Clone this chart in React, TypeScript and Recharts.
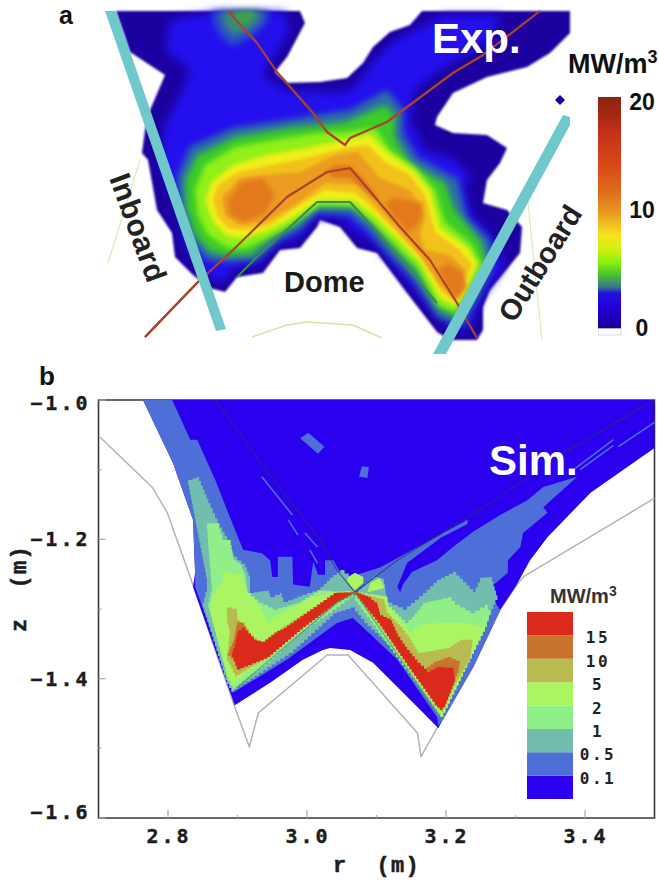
import { Bar, BarChart, ReferenceArea, Scatter, ScatterChart, XAxis, YAxis } from 'recharts';

type Pt = [number, number];

// ---- panel a (no physical axes are printed, units are picture units)
const expNavy: Pt[] = [[116,11],[300,11],[305,23],[287,57],[275,72],[287,83],[320,82],[347,78],[363,63],[373,47],[390,32],[410,25],[422,11],[570,11],[570,33],[550,53],[527,67],[487,77],[453,93],[437,117],[435,125],[453,133],[487,135],[507,148],[500,163],[487,180],[483,203],[507,210],[522,227],[520,253],[490,290],[483,307],[483,330],[477,340],[450,340],[437,332],[407,293],[377,253],[357,248],[340,227],[320,220],[317,227],[300,248],[280,250],[263,273],[237,277],[225,292],[210,288],[193,275],[175,257],[172,233],[157,210],[148,160],[142,153],[145,130],[150,110],[165,75],[130,52]];
const expBlue: Pt[] = [[170,20],[215,12],[285,12],[290,30],[275,55],[262,75],[285,90],[340,92],[352,90],[375,60],[395,40],[425,25],[445,15],[500,15],[490,40],[440,70],[415,90],[410,120],[425,150],[455,160],[470,175],[465,190],[472,215],[495,240],[505,265],[480,300],[470,330],[450,330],[410,285],[375,243],[358,235],[338,217],[315,218],[297,240],[277,243],[258,265],[235,268],[222,283],[205,275],[185,245],[178,205],[160,165],[165,125],[182,90],[190,70],[165,50]];
const expSpotOuter: Pt[] = [[212,11],[270,11],[265,25],[250,38],[232,46],[222,38],[214,25]];
const expSpotMid: Pt[] = [[222,11],[262,11],[258,22],[245,32],[232,35],[224,25]];
const expSpotCore: Pt[] = [[235,11],[255,11],[250,22],[238,25]];
const expTeal: Pt[] = [[177,177],[190,147],[233,128],[287,120],[317,115],[350,110],[387,90],[403,110],[403,133],[417,157],[453,177],[457,177],[467,217],[490,240],[493,267],[477,300],[463,325],[453,323],[437,317],[413,280],[387,253],[370,233],[350,215],[317,213],[300,230],[280,240],[257,260],[227,262],[207,260],[190,240],[180,210]];
const expGreen: Pt[] = [[185,180],[197,155],[235,137],[287,128],[320,125],[345,122],[385,105],[395,115],[395,137],[410,163],[445,183],[455,210],[482,243],[487,265],[470,297],[458,318],[440,310],[417,273],[392,246],[375,225],[352,207],[317,207],[295,225],[275,235],[252,255],[228,256],[210,252],[195,235],[186,208]];
const expLime: Pt[] = [[195,190],[205,165],[235,147],[285,138],[320,133],[345,132],[375,128],[390,150],[415,167],[435,190],[445,222],[472,245],[482,265],[465,295],[455,312],[438,305],[418,268],[395,245],[370,220],[352,206],[320,205],[292,224],[270,237],[245,248],[228,248],[208,235],[198,215]];
const expYellow: Pt[] = [[205,200],[212,182],[233,165],[267,155],[307,148],[345,140],[370,135],[387,152],[413,170],[430,190],[440,228],[467,247],[477,263],[465,293],[456,306],[440,298],[420,262],[400,241],[373,215],[353,200],[320,200],[287,221],[267,231],[243,238],[227,236],[213,222]];
const expAmber: Pt[] = [[213,200],[218,185],[238,172],[270,165],[307,158],[345,148],[368,145],[385,162],[410,175],[425,195],[435,232],[460,250],[472,265],[462,290],[455,302],[442,292],[422,258],[402,238],[375,210],[355,193],[325,190],[300,205],[270,225],[245,230],[228,228],[217,215]];
const expOrange: Pt[] = [[222,197],[240,178],[265,175],[300,172],[335,155],[358,152],[380,178],[410,190],[425,215],[420,235],[425,250],[450,255],[465,270],[455,298],[440,285],[420,255],[400,232],[380,210],[357,185],[325,183],[295,205],[265,222],[240,225],[225,215]];
const expDeepLeft: Pt[] = [[228,200],[242,182],[262,178],[275,195],[265,213],[245,222],[230,215]];
const expDeepRight: Pt[] = [[397,198],[423,203],[420,223],[408,232],[392,215],[385,202]];
const expDeepBottom: Pt[] = [[448,263],[463,273],[467,287],[457,300],[447,287],[438,270]];
const expDeepRidge: Pt[] = [[325,172],[335,165],[350,165],[363,178],[380,200],[370,195],[350,178],[335,178]];
const expDot: Pt[] = [[560,95],[565,100],[560,105],[555,100]];

const expLineUpper: Pt[] = [[228,11],[257,43],[277,72],[313,113],[327,132],[345,145],[350,138],[387,122],[407,107],[453,73],[483,55],[540,11]];
const expLineLower: Pt[] = [[145,337],[197,283],[233,250],[287,197],[327,172],[350,168],[363,183],[400,227],[430,260],[457,303],[477,338]];
const expLineDome: Pt[] = [[237,277],[257,257],[317,202],[350,202],[373,227],[437,303]];
const expFaintLeft: Pt[] = [[140,160],[108,263]];
const expFaintDome: Pt[] = [[252,337],[287,325],[307,322],[353,325],[382,338]];
const expFaintRight: Pt[] = [[527,193],[542,340]];
const expBeamLeft: Pt[] = [[105,11],[116,11],[226,329],[216,331]];
const expBeamRight: Pt[] = [[433,354],[446,354],[570,125],[570,117],[563,115]];

const expBarStops: number[] = [0, 0.07, 0.15, 0.3, 0.42, 0.5, 0.55, 0.6, 0.66, 0.72, 0.77, 0.82, 0.85, 0.91, 1];
const expBarColors: string[] = ['#8e2410', '#a02812', '#c4301a', '#d84a18', '#e0701c', '#e89a20', '#f0c020', '#f6e418', '#d0f010', '#80f010', '#48c030', '#3a7a88', '#2010e0', '#2200d8', '#18009a'];
const expBarTicks: number[] = [0, 10, 20];

// ---- panel b, r (m) and z (m)
const rTicks: number[] = [2.8, 2.9, 3.0, 3.1, 3.2, 3.3, 3.4];
const rLabels: number[] = [2.8, 3.0, 3.2, 3.4];
const zTicks: number[] = [-1.6, -1.5, -1.4, -1.3, -1.2, -1.1, -1.0];
const zLabels: number[] = [-1.6, -1.4, -1.2, -1.0];

const wall: Pt[] = [[2.702,-1.053],[2.778,-1.126],[2.799,-1.162],[2.832,-1.254],[2.894,-1.435],[2.917,-1.498],[2.93,-1.449],[3.029,-1.366],[3.059,-1.366],[3.159,-1.478],[3.164,-1.512],[3.187,-1.471],[3.195,-1.459],[3.239,-1.383],[3.278,-1.301],[3.3,-1.268],[3.311,-1.254],[3.5,-1.141]];
const simBase: Pt[] = [[2.764,-1],[3.5,-1],[3.5,-1.069],[3.408,-1.133],[3.346,-1.197],[3.321,-1.23],[3.3,-1.268],[3.278,-1.301],[3.239,-1.383],[3.195,-1.459],[3.189,-1.471],[3.167,-1.449],[3.13,-1.412],[3.095,-1.377],[3.062,-1.359],[3.033,-1.356],[3.023,-1.359],[2.994,-1.373],[2.947,-1.406],[2.896,-1.438],[2.836,-1.268],[2.839,-1.248],[2.836,-1.172],[2.807,-1.09]];
const steelLeft: Pt[] = [[2.764,-1],[2.806,-1],[2.832,-1.057],[2.842,-1.057],[2.868,-1.115],[2.889,-1.168],[2.908,-1.215],[2.935,-1.22],[2.947,-1.23],[2.95,-1.254],[2.958,-1.254],[2.958,-1.225],[2.979,-1.225],[2.98,-1.265],[3.004,-1.268],[3.009,-1.232],[3.016,-1.251],[3.026,-1.251],[3.026,-1.23],[3.038,-1.23],[3.048,-1.248],[3.069,-1.273],[3.066,-1.313],[3.043,-1.32],[2.971,-1.373],[2.894,-1.42],[2.839,-1.268],[2.839,-1.248],[2.836,-1.172],[2.807,-1.09]];
const steelRight: Pt[] = [[3.055,-1.255],[3.081,-1.248],[3.106,-1.24],[3.231,-1.172],[3.231,-1.178],[3.192,-1.198],[3.144,-1.234],[3.13,-1.268],[3.134,-1.276],[3.138,-1.265],[3.151,-1.247],[3.187,-1.23],[3.21,-1.211],[3.239,-1.189],[3.278,-1.165],[3.317,-1.144],[3.34,-1.125],[3.389,-1.11],[3.34,-1.154],[3.346,-1.162],[3.311,-1.191],[3.307,-1.211],[3.289,-1.23],[3.289,-1.248],[3.259,-1.273],[3.278,-1.301],[3.239,-1.383],[3.195,-1.459],[3.189,-1.468],[3.187,-1.455],[3.13,-1.373],[3.095,-1.34],[3.066,-1.313]];
const steelPatchA: Pt[] = [[2.99,-1.055],[3.002,-1.047],[3.025,-1.067],[3.016,-1.077]];
const steelPatchB: Pt[] = [[3.075,-1.11],[3.079,-1.095],[3.089,-1.096],[3.087,-1.112]];
const steelDashes: Pt[][] = [
  [[2.935,-1.11],[2.979,-1.165]],
  [[2.973,-1.172],[2.987,-1.194]],
  [[2.997,-1.191],[3.015,-1.211]],
  [[3.004,-1.215],[3.015,-1.234]],
  [[3.386,-1.098],[3.441,-1.057]],
  [[3.393,-1.1],[3.441,-1.065]],
  [[3.448,-1.067],[3.5,-1.032]],
];
const tealLeft: Pt[] = [[2.829,-1.115],[2.842,-1.11],[2.858,-1.148],[2.871,-1.177],[2.885,-1.201],[2.894,-1.225],[2.911,-1.24],[2.918,-1.258],[2.918,-1.277],[2.943,-1.273],[2.947,-1.283],[2.961,-1.277],[2.966,-1.29],[3,-1.277],[3.015,-1.273],[3.033,-1.255],[3.048,-1.244],[3.06,-1.254],[3.069,-1.276],[3.069,-1.298],[3.043,-1.306],[2.98,-1.363],[2.937,-1.392],[2.894,-1.419],[2.885,-1.402],[2.85,-1.291],[2.856,-1.268],[2.856,-1.254]];
const tealRight: Pt[] = [[3.069,-1.276],[3.094,-1.254],[3.11,-1.258],[3.115,-1.291],[3.138,-1.301],[3.167,-1.277],[3.187,-1.258],[3.21,-1.247],[3.239,-1.276],[3.249,-1.255],[3.264,-1.254],[3.274,-1.287],[3.259,-1.32],[3.195,-1.455],[3.192,-1.452],[3.124,-1.354],[3.087,-1.32],[3.069,-1.298]];
const paleLeft: Pt[] = [[2.856,-1.177],[2.871,-1.177],[2.878,-1.201],[2.889,-1.201],[2.894,-1.23],[2.904,-1.237],[2.911,-1.254],[2.914,-1.277],[2.93,-1.291],[2.951,-1.301],[2.986,-1.291],[3.015,-1.273],[3.048,-1.276],[3.069,-1.276],[3.066,-1.283],[3.048,-1.297],[2.994,-1.334],[2.947,-1.377],[2.896,-1.416],[2.886,-1.397],[2.858,-1.291],[2.863,-1.268]];
const paleRight: Pt[] = [[3.069,-1.276],[3.115,-1.283],[3.117,-1.297],[3.141,-1.32],[3.151,-1.311],[3.167,-1.291],[3.203,-1.283],[3.213,-1.294],[3.235,-1.306],[3.256,-1.294],[3.264,-1.309],[3.259,-1.326],[3.196,-1.455],[3.069,-1.283]];
const limeLeft: Pt[] = [[2.879,-1.247],[2.904,-1.251],[2.914,-1.277],[2.933,-1.301],[2.943,-1.32],[2.951,-1.311],[3.004,-1.283],[3.033,-1.276],[3.069,-1.273],[3.043,-1.291],[2.994,-1.326],[2.933,-1.377],[2.896,-1.409],[2.886,-1.392],[2.86,-1.297],[2.865,-1.277],[2.879,-1.258]];
const limeDiamond: Pt[] = [[3.059,-1.254],[3.069,-1.248],[3.081,-1.254],[3.081,-1.263],[3.069,-1.273],[3.058,-1.261]];
const limePiece: Pt[] = [[3.091,-1.263],[3.105,-1.255],[3.112,-1.27],[3.087,-1.276]];
const limeRight: Pt[] = [[3.073,-1.276],[3.111,-1.283],[3.117,-1.297],[3.146,-1.333],[3.16,-1.323],[3.187,-1.32],[3.225,-1.32],[3.249,-1.326],[3.259,-1.326],[3.196,-1.455]];
const oliveLeft: Pt[] = [[2.885,-1.298],[2.899,-1.301],[2.9,-1.316],[2.915,-1.334],[2.932,-1.349],[2.958,-1.33],[3.043,-1.276],[3.069,-1.276],[3.043,-1.287],[2.947,-1.369],[2.899,-1.397],[2.885,-1.369],[2.889,-1.33],[2.885,-1.316]];
const oliveRight: Pt[] = [[3.073,-1.276],[3.11,-1.287],[3.115,-1.306],[3.134,-1.326],[3.148,-1.344],[3.159,-1.363],[3.202,-1.356],[3.22,-1.344],[3.239,-1.344],[3.235,-1.373],[3.216,-1.406],[3.196,-1.448]];
const brownLeft: Pt[] = [[2.899,-1.319],[2.907,-1.32],[2.922,-1.344],[2.94,-1.354],[2.904,-1.38],[2.886,-1.363],[2.894,-1.344]];
const brownRight: Pt[] = [[3.173,-1.383],[3.182,-1.376],[3.202,-1.369],[3.22,-1.377],[3.218,-1.392],[3.195,-1.445]];
const redLeft: Pt[] = [[3.069,-1.276],[3.043,-1.277],[2.971,-1.327],[2.957,-1.334],[2.94,-1.347],[2.928,-1.344],[2.911,-1.327],[2.901,-1.333],[2.896,-1.356],[2.892,-1.369],[2.899,-1.387],[2.943,-1.369],[2.994,-1.326],[3.043,-1.29]];
const redRight: Pt[] = [[3.069,-1.276],[3.088,-1.283],[3.101,-1.294],[3.105,-1.309],[3.12,-1.316],[3.131,-1.34],[3.144,-1.359],[3.159,-1.377],[3.173,-1.39],[3.187,-1.383],[3.21,-1.385],[3.213,-1.405],[3.199,-1.441],[3.195,-1.445],[3.187,-1.438],[3.144,-1.377],[3.105,-1.32]];
const sepUpperLeft: Pt[] = [[2.868,-1],[2.943,-1.103],[3.019,-1.201],[3.043,-1.244],[3.069,-1.276]];
const sepUpperRight: Pt[] = [[3.069,-1.276],[3.13,-1.23],[3.264,-1.148],[3.369,-1.076],[3.5,-1]];
const sepLowerLeft: Pt[] = [[3.069,-1.276],[3.043,-1.291],[2.899,-1.413]];
const sepLowerRight: Pt[] = [[3.069,-1.276],[3.192,-1.455]];

const legendLabels: string[] = ['0.1', '0.5', '1', '2', '5', '10', '15'];
const legendTicks: number[] = [1, 2, 3, 4, 5, 6, 7];
const legendColors: string[] = ['#2a00ef', '#4f6fd8', '#73bdae', '#90f087', '#abf562', '#b9bb50', '#c8742c', '#d92a1c'];

const BLUE = '#2a00ef';
const STEEL = '#4f6fd8';
const TEAL = '#73bdae';
const PALE = '#90f087';
const LIME = '#abf562';
const OLIVE = '#b9bb50';
const BROWN = '#c8742c';
const RED = '#d92a1c';

const MONO = '"DejaVu Sans Mono", monospace';
const SERIF_MONO = '"Liberation Mono", monospace';
const SANS = '"Liberation Sans", Arial, sans-serif';
const INK = '#1c1c1c';

const rows = (pts: Pt[]) => pts.map(([x, y]) => ({ x, y }));
const noMark = () => <g />;

// the simulation cells are blocky, so edges can be drawn as small stairs
const outline = (points: any[], cell: number) => {
  if (!cell) return 'M' + points.map((q) => `${q.x},${q.y}`).join('L') + 'Z';
  let d = `M${points[0].x},${points[0].y}`;
  points.forEach((a, i) => {
    const b = points[(i + 1) % points.length];
    const n = Math.max(1, Math.round(Math.hypot(b.x - a.x, b.y - a.y) / cell));
    for (let k = 1; k <= n; k++) {
      const x = a.x + ((b.x - a.x) * k) / n;
      const y = a.y + ((b.y - a.y) * k) / n;
      const py = a.y + ((b.y - a.y) * (k - 1)) / n;
      d += `L${x},${py}L${x},${y}`;
    }
  });
  return d + 'Z';
};

const region = (pts: Pt[], fill: string, blur = 0, cell = 0) => (
  <Scatter
    data={rows(pts)}
    isAnimationActive={false}
    shape={noMark}
    line={(p: any) => (
      <path d={outline(p.points, cell)} fill={fill} style={blur ? { filter: `blur(${blur}px)` } : undefined} />
    )}
  />
);

const trace = (pts: Pt[], color: string, width: number, blur = 0) => (
  <Scatter
    data={rows(pts)}
    isAnimationActive={false}
    shape={noMark}
    line={(p: any) => (
      <path
        d={'M' + p.points.map((q: any) => `${q.x},${q.y}`).join('L')}
        fill="none"
        stroke={color}
        strokeWidth={width}
        strokeLinejoin="round"
        style={blur ? { filter: `blur(${blur}px)` } : undefined}
      />
    )}
  />
);

const RTick = ({ x, y, payload }: any) => {
  const major = rLabels.includes(payload.value);
  return (
    <g>
      <line x1={x} x2={x} y1={y} y2={y - (major ? 8 : 3)} stroke="#a8a8a8" strokeWidth={1.2} />
      {major && (
        <text x={x + 1} y={y + 25} textAnchor="middle" fontFamily={MONO} fontWeight="bold" fontSize={20} letterSpacing={3} fill={INK} stroke={INK} strokeWidth={0.4}>
          {payload.value.toFixed(1)}
        </text>
      )}
    </g>
  );
};

const ZTick = ({ x, y, payload }: any) => {
  const major = zLabels.includes(payload.value);
  const nudge = payload.value === -1.6 ? -6 : payload.value === -1.0 ? 3 : 0;
  return (
    <g>
      <line x1={x} x2={x + (major ? 7 : 3)} y1={y} y2={y} stroke="#a8a8a8" strokeWidth={1.2} />
      {major && (
        <text x={x - 8} y={y + 7 + nudge} textAnchor="end" fontFamily={MONO} fontWeight="bold" fontSize={20} letterSpacing={3} fill={INK} stroke={INK} strokeWidth={0.4}>
          {'\u2212' + Math.abs(payload.value).toFixed(1)}
        </text>
      )}
    </g>
  );
};

const TopTick = ({ x, y }: any) => <line x1={x} x2={x} y1={y} y2={y + 3} stroke="#555" strokeWidth={1} />;
const SideTick = ({ x, y }: any) => <line x1={x} x2={x - 3} y1={y} y2={y} stroke="#555" strokeWidth={1} />;

const ExpBarTick = ({ x, y, payload }: any) => (
  <text x={x + 21} y={y + 8 + (payload.value === 10 ? -5 : 0)} textAnchor="middle" fontFamily={SANS} fontWeight="bold" fontSize={23} fill="#111">
    {payload.value}
  </text>
);

const LegendTick = ({ x, y, payload }: any) => (
  <text x={x + 25} y={y + 8} textAnchor="middle" fontFamily={MONO} fontWeight="bold" fontSize={16} letterSpacing={2.5} fill="#222">
    {legendLabels[payload.value - 1]}
  </text>
);

const legendRow = [Object.fromEntries([['name', 'b'], ...legendColors.map((_, i) => [`b${i}`, 1])])];
const expBarRow = [{ name: 'a', value: 20.4 }];

const layer = { position: 'absolute', left: 0, top: 0 } as const;

export default function App() {
  return (
    <div style={{ position: 'absolute', left: 0, top: 0, width: 659, height: 882, background: '#fff', overflow: 'hidden' }}>
      {/* panel a */}
      <div style={layer}>
        <ScatterChart width={659} height={360} margin={{ top: 0, right: 0, bottom: 0, left: 0 }}>
          <XAxis type="number" dataKey="x" domain={[0, 659]} hide />
          <YAxis type="number" dataKey="y" domain={[0, 360]} reversed hide />
          {trace(expFaintLeft, '#d6ecb4', 1.2)}
          {trace(expFaintDome, '#cfe8a8', 1.5)}
          {trace(expFaintRight, '#d6ecb4', 1.2)}
          {trace(expLineLower, '#a84428', 2.2, 0.4)}
          {region(expNavy, '#1c00a0', 0.8)}
          {region(expDot, '#1c00a0', 0.5)}
          {region(expBlue, '#2410ee', 5)}
          {region(expSpotOuter, '#2a50c8', 3)}
          {region(expSpotMid, '#3a8a78', 3)}
          {region(expSpotCore, '#3fa050', 2)}
          {region(expTeal, '#2c6ea8', 3)}
          {region(expGreen, '#3ccc28', 3)}
          {region(expLime, '#90f018', 2.5)}
          {region(expYellow, '#f0ee18', 2)}
          {region(expAmber, '#f2c21c', 1.5)}
          {region(expOrange, '#ec9c20', 1.5)}
          {region(expDeepLeft, '#e27a1c', 2)}
          {region(expDeepRight, '#e27a1c', 2)}
          {region(expDeepBottom, '#e27a1c', 2)}
          {region(expDeepRidge, '#e27a1c', 1.5)}
          {trace(expLineUpper, '#a84428', 2.2, 0.4)}
          {trace(expLineLower, '#a84428', 2.2, 0.4)}
          {trace(expLineDome, '#3a8a50', 2, 0.4)}
          {region(expBeamLeft, '#6fc9ca')}
          {region(expBeamRight, '#6fc9ca')}
        </ScatterChart>
      </div>

      <div style={{ ...layer, left: 598, top: 82 }}>
        <BarChart width={61} height={268} data={expBarRow} barCategoryGap={0} margin={{ top: 15, right: 0, bottom: 15, left: 0 }}>
          <defs>
            <linearGradient id="expScale" x1="0" y1="0" x2="0" y2="1">
              {expBarStops.map((s, i) => (
                <stop key={s} offset={s} stopColor={expBarColors[i]} />
              ))}
            </linearGradient>
          </defs>
          <XAxis dataKey="name" hide />
          <YAxis orientation="right" width={38} domain={[-0.6, 20.4]} ticks={expBarTicks} interval={0} axisLine={false} tickLine={false} tickSize={0} tickMargin={0} tick={ExpBarTick} />
          <Bar dataKey="value" fill="url(#expScale)" isAnimationActive={false} />
          <ReferenceArea y1={-0.6} y2={0} fill="#fff" stroke="#d8d8e8" />
        </BarChart>
      </div>

      {/* panel b */}
      <div style={layer}>
        <ScatterChart width={659} height={882} margin={{ top: 399, right: 3.5, bottom: 63, left: 97.5 }}>
          <XAxis type="number" dataKey="x" height={1} domain={[2.7, 3.5]} ticks={rTicks} interval={0} axisLine={false} tickLine={false} tickSize={0} tickMargin={0} tick={RTick} />
          <XAxis xAxisId="top" orientation="top" type="number" dataKey="x" height={1} domain={[2.7, 3.5]} ticks={rTicks} interval={0} axisLine={false} tickLine={false} tickSize={0} tickMargin={0} tick={TopTick} />
          <YAxis type="number" dataKey="y" width={1} domain={[-1.6, -1.0]} ticks={zTicks} interval={0} axisLine={false} tickLine={false} tickSize={0} tickMargin={0} tick={ZTick} />
          <YAxis yAxisId="side" orientation="right" type="number" dataKey="y" width={1} domain={[-1.6, -1.0]} ticks={zTicks} interval={0} axisLine={false} tickLine={false} tickSize={0} tickMargin={0} tick={SideTick} />
          {trace(wall, '#b4b4b4', 1.5)}
          {region(simBase, BLUE, 0.4)}
          {region(steelLeft, STEEL, 0.4)}
          {region(steelRight, STEEL, 0.4)}
          {region(steelPatchA, STEEL, 0.4)}
          {region(steelPatchB, STEEL, 0.4)}
          {steelDashes.map((d) => trace(d, STEEL, 1.6))}
          {region(tealLeft, TEAL, 0.5, 5)}
          {region(tealRight, TEAL, 0.5, 5)}
          {region(paleLeft, PALE, 0.5, 5)}
          {region(paleRight, PALE, 0.5, 5)}
          {region(limeLeft, LIME, 0.5, 5)}
          {region(limeDiamond, LIME, 0.4)}
          {region(limePiece, LIME, 0.4)}
          {region(limeRight, LIME, 0.5, 5)}
          {region(oliveLeft, OLIVE, 0.5, 4)}
          {region(oliveRight, OLIVE, 0.5, 4)}
          {region(brownLeft, BROWN, 0.5, 4)}
          {region(brownRight, BROWN, 0.5, 4)}
          {region(redLeft, RED, 0.5, 4)}
          {region(redRight, RED, 0.5, 4)}
          {trace(sepUpperLeft, 'rgba(50,50,100,0.75)', 1.1)}
          {trace(sepUpperRight, 'rgba(50,50,100,0.75)', 1.1)}
          {trace(sepLowerLeft, 'rgba(90,150,110,0.9)', 1.1)}
          {trace(sepLowerRight, 'rgba(90,150,110,0.9)', 1.1)}
          <ReferenceArea x1={2.7} x2={3.5} y1={-1.6} y2={-1.0} fill="none" stroke="#3a3a3a" strokeWidth={1.6} />
        </ScatterChart>
      </div>

      <div style={{ ...layer, left: 527, top: 612 }}>
        <BarChart width={100} height={187} data={legendRow} barCategoryGap={0} margin={{ top: 0, right: 0, bottom: 0, left: 0 }}>
          <XAxis dataKey="name" hide />
          <YAxis orientation="right" width={54} domain={[0, 8]} ticks={legendTicks} interval={0} axisLine={false} tickLine={false} tickSize={0} tickMargin={0} tick={LegendTick} />
          {legendColors.map((c, i) => (
            <Bar key={c} dataKey={`b${i}`} stackId="s" fill={c} isAnimationActive={false} />
          ))}
        </BarChart>
      </div>

      {/* labels */}
      <svg width={659} height={882} style={{ ...layer, pointerEvents: 'none' }}>
        <g fontFamily={SANS} fontWeight="bold">
          <text x={59} y={24} fontSize={25} fill="#111">a</text>
          <text x={39} y={385} fontSize={26} fill="#111">b</text>
          <text x={432} y={53} fontSize={42} fill="#fff">Exp.</text>
          <text x={489} y={475} fontSize={42} fill="#fff">Sim.</text>
          <text x={284} y={292} fontSize={29} fill="#1a1a1a">Dome</text>
          <text transform="translate(109,178) rotate(70)" fontSize={30} letterSpacing={0.5} fill="#222">Inboard</text>
          <text transform="translate(514,324) rotate(-58)" fontSize={29} fill="#222">Outboard</text>
          <text x={568} y={73} fontSize={27} fill="#111">MW/m<tspan dy={-10} fontSize={18}>3</tspan></text>
          <text x={550} y={603} fontSize={20} fill="#333">MW/m<tspan dy={-7} fontSize={14}>3</tspan></text>
        </g>
        <text x={333} y={872} fontFamily={SERIF_MONO} fontWeight="bold" fontSize={22} letterSpacing={1.3} fill={INK} stroke={INK} strokeWidth={0.5} style={{ whiteSpace: 'pre' }}>{'r  (m)'}</text>
        <text transform="translate(26,632) rotate(-90)" fontFamily={SERIF_MONO} fontWeight="bold" fontSize={22} letterSpacing={1.3} fill={INK} stroke={INK} strokeWidth={0.5} style={{ whiteSpace: 'pre' }}>{'z  (m)'}</text>
      </svg>
    </div>
  );
}
